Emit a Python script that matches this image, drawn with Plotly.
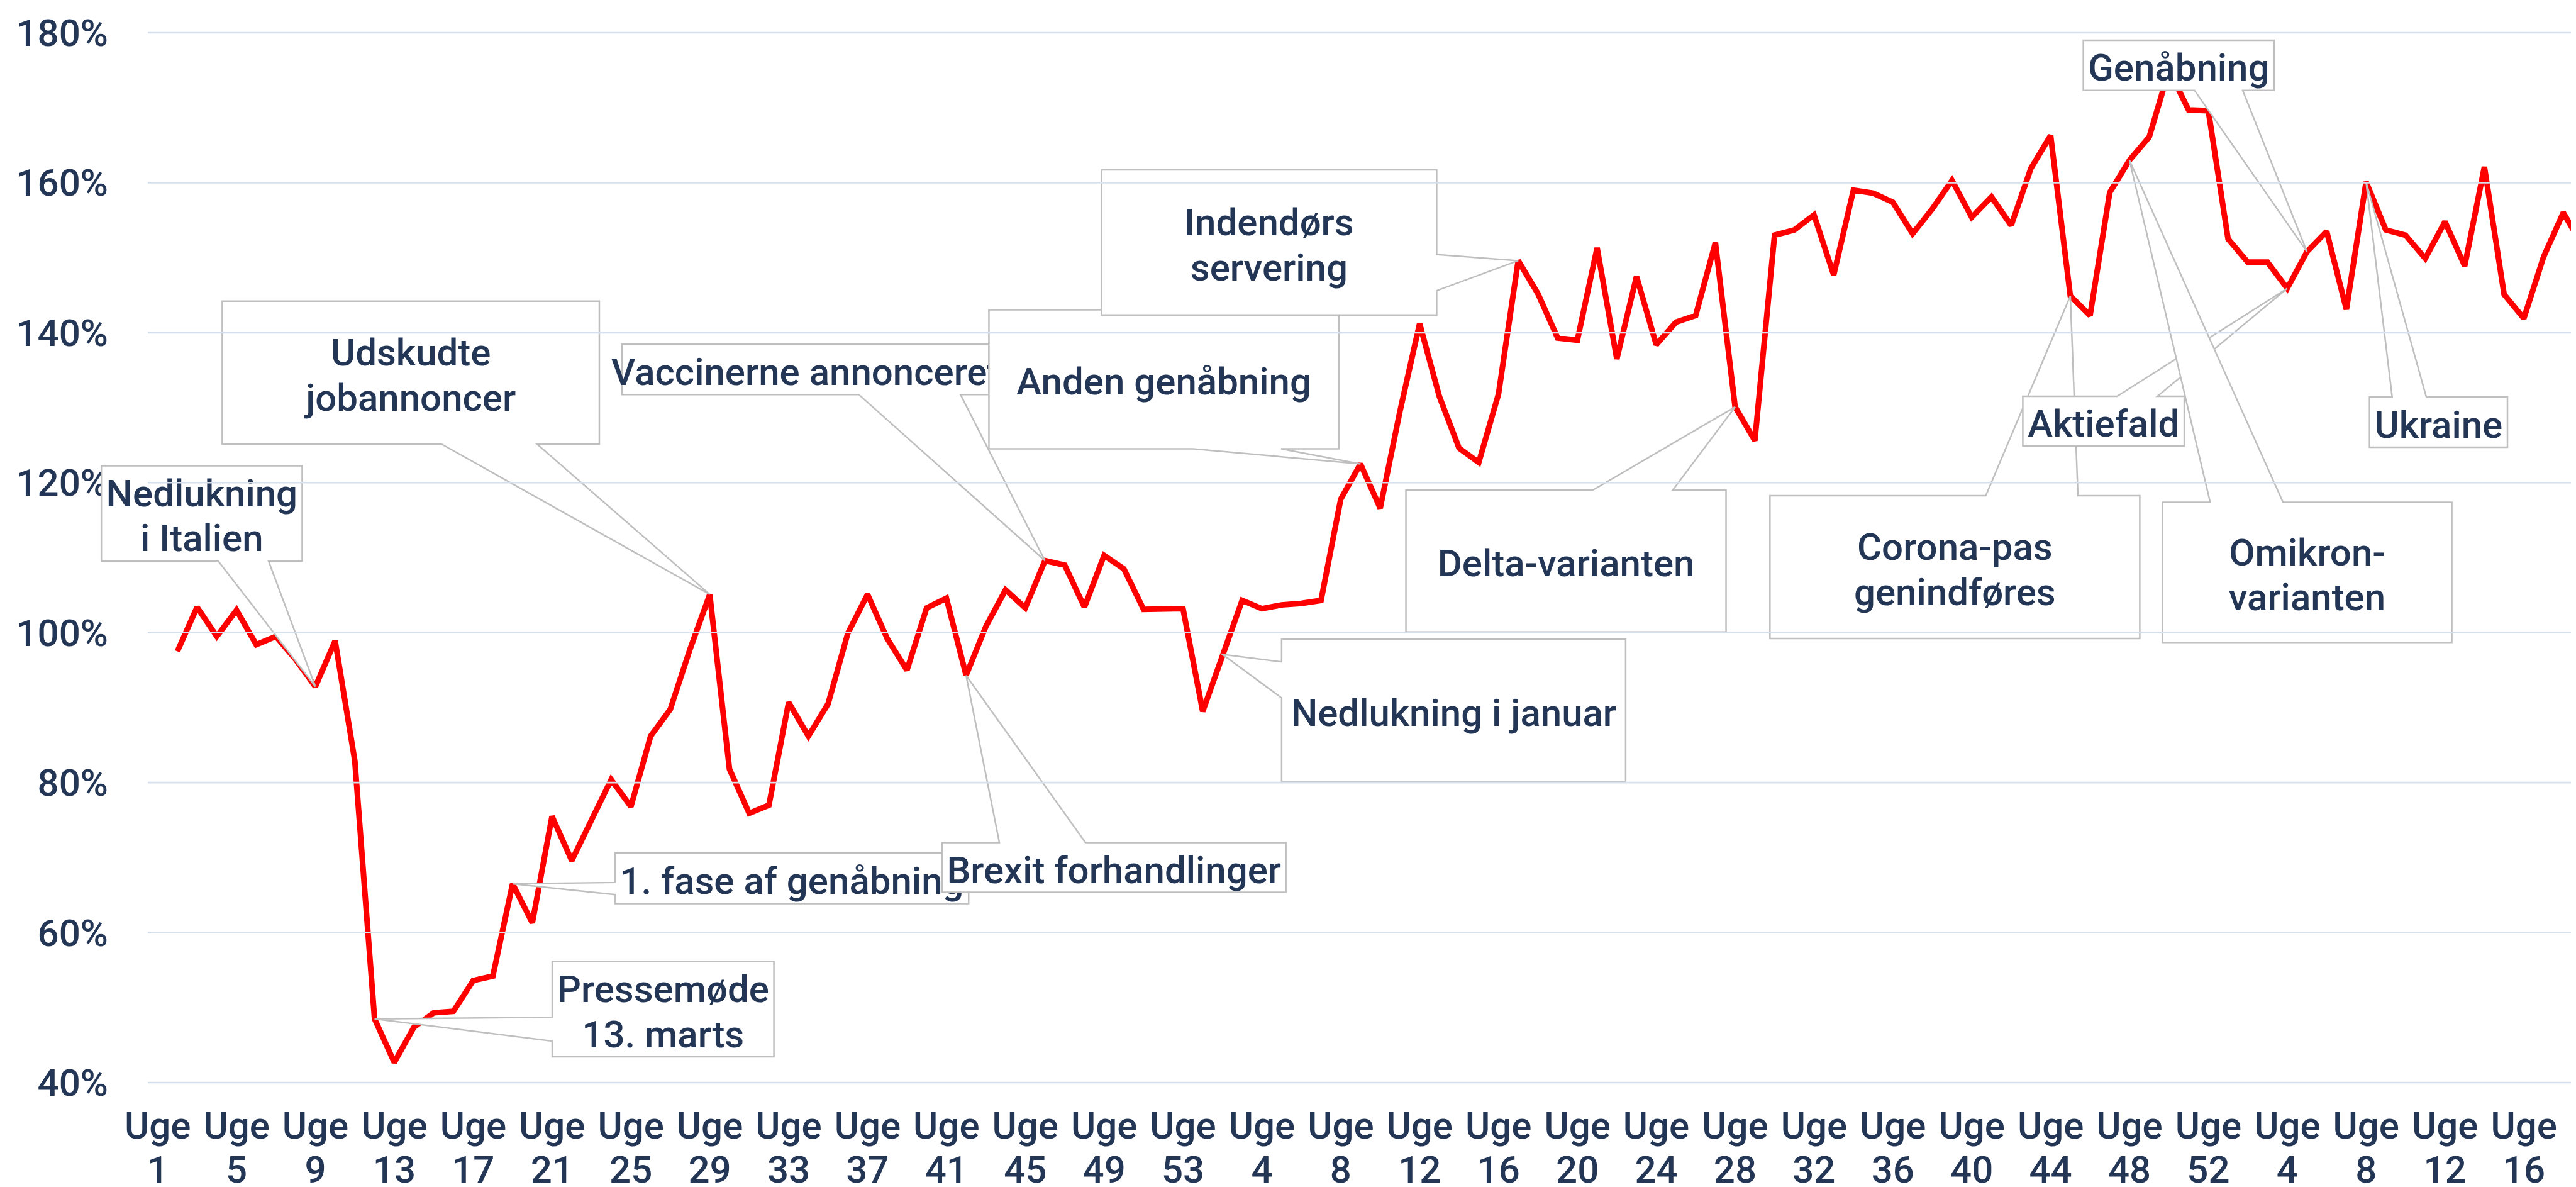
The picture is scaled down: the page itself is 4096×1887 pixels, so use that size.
import plotly.graph_objects as go

# ---------------- data ----------------
weeks_2020 = list(range(1, 54))
weeks_2021 = list(range(1, 53))
weeks_2022 = list(range(1, 20))
weeks = weeks_2020 + weeks_2021 + weeks_2022          # category index 0..123

# index (share of jobs ads relative to baseline), %; first week has no value
values = [None,
    97.5, 103.4, 99.5, 103.0, 98.4, 99.5, 96.4, 92.8, 98.9, 82.9,
    48.5, 42.7, 47.4, 49.3, 49.5, 53.6, 54.2, 66.5, 61.3, 75.5,
    69.6, 75.0, 80.4, 76.8, 86.2, 89.8, 97.8, 105.1, 81.8, 75.9,
    77.0, 90.7, 86.2, 90.5, 99.9, 105.1, 99.2, 95.0, 103.3, 104.6,
    94.3, 100.8, 105.7, 103.3, 109.6, 109.0, 103.4, 110.3, 108.5, 103.1,
    103.1, 103.2, 89.5, 97.1, 104.3, 103.2, 103.7, 103.9, 104.3, 117.8,
    122.5, 116.6, 129.5, 141.2, 131.5, 124.6, 122.7, 131.8, 149.6, 145.2,
    139.3, 139.0, 151.3, 136.5, 147.5, 138.4, 141.4, 142.3, 152.0, 130.1,
    125.6, 153.0, 153.7, 155.7, 147.7, 159.0, 158.6, 157.4, 153.2, 156.5,
    160.3, 155.4, 158.1, 154.3, 161.9, 166.3, 144.9, 142.3, 158.7, 163.0,
    166.1, 175.0, 169.7, 169.6, 152.5, 149.4, 149.4, 145.9, 150.8, 153.5,
    143.1, 160.1, 153.7, 153.0, 149.9, 154.8, 148.9, 162.1, 145.1, 141.9,
    150.1, 156.0, 151.5]

tick_idx = list(range(0, 121, 4))
tick_word = ["Uge" for _ in tick_idx]
tick_num = [str(weeks[i]) for i in tick_idx]
y_ticks = [40, 60, 80, 100, 120, 140, 160, 180]
y_tick_text = [f"{v}%" for v in y_ticks]

# events: label lines and the category index they point to
event_lines = [
    ["Nedlukning", "i Italien"],
    ["Udskudte", "jobannoncer"],
    ["Vaccinerne annonceret"],
    ["Anden genåbning"],
    ["Indendørs", "servering"],
    ["1. fase af genåbning"],
    ["Brexit forhandlinger"],
    ["Pressemøde", "13. marts"],
    ["Nedlukning i januar"],
    ["Delta-varianten"],
    ["Corona-pas", "genindføres"],
    ["Aktiefald"],
    ["Omikron-", "varianten"],
    ["Genåbning"],
    ["Ukraine"],
]
event_idx = [8, 28, 45, 61, 69, 18, 41, 11, 54, 80, 97, 108, 100, 109, 112]

# ---------------- layout / style ----------------
W, H = 4096, 1887
S = 0.929                      # reference px -> output px
ML, MR, MT, MB = 227, 0, 44, 174
X_RANGE = (-0.5, 122.9)
Y_RANGE = (40, 180)
NAVY = "#243656"
GRID = "#D6DFEC"
FONT = "Roboto"
FS = 60
FW = 500
XLAB_STANDOFF = 28
XLAB_LINE_GAP = 70

# callout boxes in reference pixels: (L, T, R, B), wedge side, wedge base (a, b)
boxes = [
    ((164.9, 788.4, 508.6, 951.3), "bottom", (364.8, 451.0)),
    ((371.8, 506.7, 1017.2, 751.3), "bottom", (747.1, 910.6)),
    ((1055.8, 580.4, 1684.0, 666.5), "bottom", (1461.3, 1635.3)),
    ((1684.0, 521.4, 2283.0, 759.4), "bottom", (2033.0, 2184.0)),
    ((1876.6, 282.0, 2450.4, 530.4), "right", (427.0, 488.8)),
    ((1043.8, 1451.3, 1649.3, 1537.6), "left", (1501.5, 1522.3)),
    ((1603.7, 1433.3, 2192.3, 1518.3), "top", (1701.9, 1849.2)),
    ((936.5, 1636.7, 1316.0, 1799.9), "left", (1732.1, 1773.0)),
    ((2185.0, 1085.0, 2773.8, 1328.6), "left", (1124.0, 1185.7)),
    ((2397.8, 830.0, 2945.7, 1073.0), "top", (2717.7, 2854.5)),
    ((3020.8, 839.7, 3653.8, 1083.9), "top", (3390.2, 3548.0)),
    ((3453.6, 669.6, 3729.9, 754.5), "top", (3615.0, 3684.0)),
    ((3692.5, 850.9, 4187.9, 1090.6), "top", (3774.3, 3899.0)),
    ((3557.2, 60.3, 3883.5, 146.0), "bottom", (3747.5, 3830.0)),
    ((4047.0, 671.0, 4283.1, 756.7), "top", (4085.8, 4144.3)),
]
LINE_GAP_REF = 77.0

PW = W - ML - MR
PH = H - MT - MB


def ref_px(xr):
    return (xr * S - ML) / PW


def ref_py(yr):
    return (H - MB - yr * S) / PH


def data_px(i):
    return (i - X_RANGE[0]) / (X_RANGE[1] - X_RANGE[0])


def data_py(v):
    return (v - Y_RANGE[0]) / (Y_RANGE[1] - Y_RANGE[0])


fig = go.Figure()
fig.add_trace(go.Scatter(
    x=list(range(len(values))), y=values, mode="lines",
    line=dict(color="#FF0000", width=9), connectgaps=False,
    hoverinfo="skip", showlegend=False))
# invisible companion trace so the second (number) x-axis is drawn
fig.add_trace(go.Scatter(x=[None], y=[None], xaxis="x2", yaxis="y",
                         mode="lines", hoverinfo="skip", showlegend=False))

shapes = []
for lines, k, (box, side, (a, b)) in zip(event_lines, event_idx, boxes):
    L, T, R, B = box
    ax, ay = data_px(k), data_py(values[k])
    P = lambda x, y: (ref_px(x), ref_py(y))
    if side == "bottom":
        pts = [P(L, T), P(R, T), P(R, B), P(b, B), (ax, ay), P(a, B), P(L, B)]
    elif side == "top":
        pts = [P(L, T), P(a, T), (ax, ay), P(b, T), P(R, T), P(R, B), P(L, B)]
    elif side == "left":
        pts = [P(L, T), P(R, T), P(R, B), P(L, B), P(L, b), (ax, ay), P(L, a)]
    else:
        pts = [P(L, T), P(R, T), P(R, a), (ax, ay), P(R, b), P(R, B), P(L, B)]
    path = "M " + " L ".join(f"{x:.5f},{y:.5f}" for x, y in pts) + " Z"
    shapes.append(dict(type="path", path=path, xref="paper", yref="paper",
                       fillcolor="white", line=dict(color="#BFBFBF", width=2.5),
                       layer="above"))
    cy = (T + B) / 2
    n = len(lines)
    for j, txt in enumerate(lines):
        ly = cy + (j - (n - 1) / 2) * LINE_GAP_REF
        shapes.append(dict(type="rect", xref="paper", yref="paper",
                           x0=ref_px(L), x1=ref_px(R),
                           y0=ref_py(ly - 1), y1=ref_py(ly + 1),
                           line=dict(width=0), fillcolor="rgba(0,0,0,0)",
                           layer="above",
                           label=dict(text=txt, textposition="middle center",
                                      font=dict(family=FONT, size=FS, color=NAVY,
                                                weight=FW),
                                      padding=0)))

# horizontal gridlines drawn on top, as in the reference
for v in y_ticks:
    shapes.append(dict(type="line", xref="paper", yref="paper",
                       x0=0, x1=1, y0=data_py(v), y1=data_py(v),
                       line=dict(color=GRID, width=2.6), layer="above"))

tickfont = dict(family=FONT, size=FS, color=NAVY, weight=FW)
fig.update_layout(
    width=W, height=H,
    margin=dict(l=ML, r=MR, t=MT, b=MB, pad=0, autoexpand=False),
    paper_bgcolor="white", plot_bgcolor="white",
    font=dict(family=FONT, size=FS, color=NAVY, weight=FW),
    showlegend=False,
    shapes=shapes,
    xaxis=dict(range=list(X_RANGE), tickvals=tick_idx, ticktext=tick_word,
               showgrid=False, zeroline=False, showline=False,
               ticks="", ticklabelstandoff=XLAB_STANDOFF, automargin=False,
               tickfont=tickfont),
    xaxis2=dict(range=list(X_RANGE), tickvals=tick_idx, ticktext=tick_num,
                overlaying="x", anchor="y", side="bottom",
                showgrid=False, zeroline=False, showline=False,
                ticks="", ticklabelstandoff=XLAB_STANDOFF + XLAB_LINE_GAP,
                automargin=False, tickfont=tickfont),
    yaxis=dict(range=list(Y_RANGE), tickvals=y_ticks, ticktext=y_tick_text,
               showgrid=False, zeroline=False, showline=False, ticks="",
               automargin=False, ticklabelstandoff=62, tickfont=tickfont),
)

fig.write_html("out.html")
